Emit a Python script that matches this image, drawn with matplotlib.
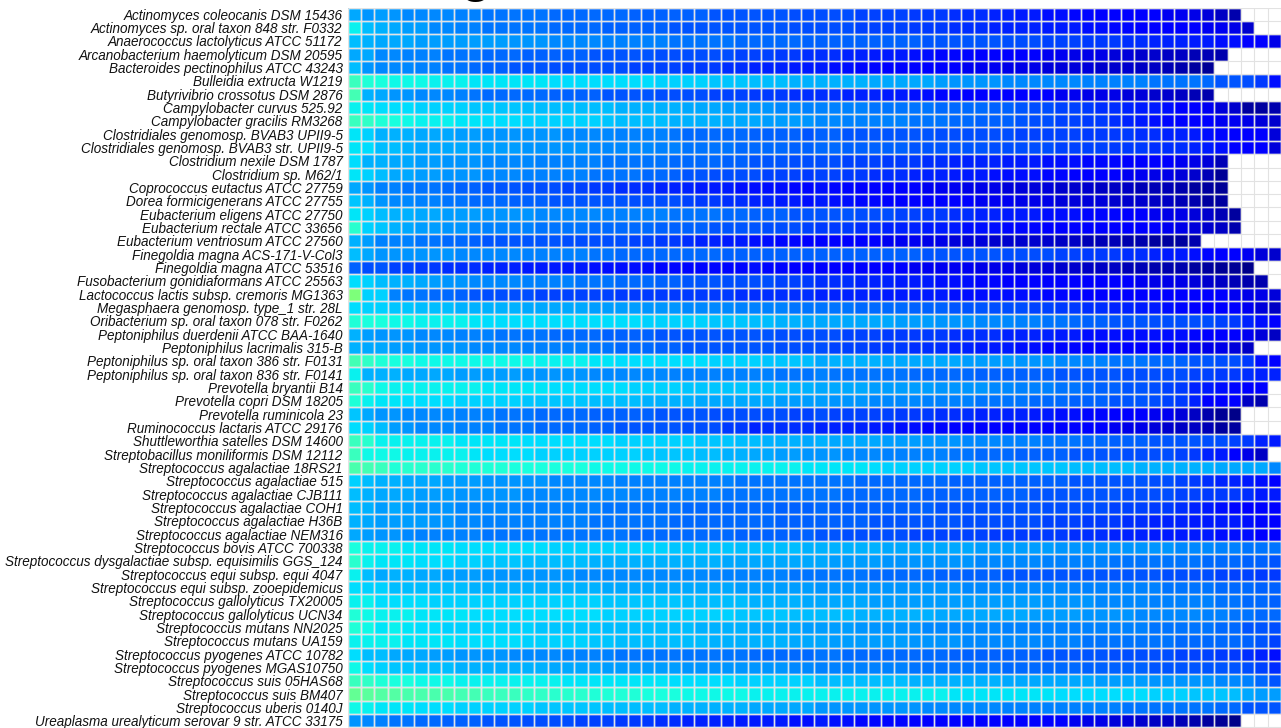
import numpy as np
import matplotlib
matplotlib.use("Agg")
import matplotlib.pyplot as plt

''' values read off the picture, 0 = navy end of jet, 50 = green end, short rows = blank cells '''
numCols = 70

speciesNames = [
	"Actinomyces coleocanis DSM 15436",
	"Actinomyces sp. oral taxon 848 str. F0332",
	"Anaerococcus lactolyticus ATCC 51172",
	"Arcanobacterium haemolyticum DSM 20595",
	"Bacteroides pectinophilus ATCC 43243",
	"Bulleidia extructa W1219",
	"Butyrivibrio crossotus DSM 2876",
	"Campylobacter curvus 525.92",
	"Campylobacter gracilis RM3268",
	"Clostridiales genomosp. BVAB3 UPII9-5",
	"Clostridiales genomosp. BVAB3 str. UPII9-5",
	"Clostridium nexile DSM 1787",
	"Clostridium sp. M62/1",
	"Coprococcus eutactus ATCC 27759",
	"Dorea formicigenerans ATCC 27755",
	"Eubacterium eligens ATCC 27750",
	"Eubacterium rectale ATCC 33656",
	"Eubacterium ventriosum ATCC 27560",
	"Finegoldia magna ACS-171-V-Col3",
	"Finegoldia magna ATCC 53516",
	"Fusobacterium gonidiaformans ATCC 25563",
	"Lactococcus lactis subsp. cremoris MG1363",
	"Megasphaera genomosp. type_1 str. 28L",
	"Oribacterium sp. oral taxon 078 str. F0262",
	"Peptoniphilus duerdenii ATCC BAA-1640",
	"Peptoniphilus lacrimalis 315-B",
	"Peptoniphilus sp. oral taxon 386 str. F0131",
	"Peptoniphilus sp. oral taxon 836 str. F0141",
	"Prevotella bryantii B14",
	"Prevotella copri DSM 18205",
	"Prevotella ruminicola 23",
	"Ruminococcus lactaris ATCC 29176",
	"Shuttleworthia satelles DSM 14600",
	"Streptobacillus moniliformis DSM 12112",
	"Streptococcus agalactiae 18RS21",
	"Streptococcus agalactiae 515",
	"Streptococcus agalactiae CJB111",
	"Streptococcus agalactiae COH1",
	"Streptococcus agalactiae H36B",
	"Streptococcus agalactiae NEM316",
	"Streptococcus bovis ATCC 700338",
	"Streptococcus dysgalactiae subsp. equisimilis GGS_124",
	"Streptococcus equi subsp. equi 4047",
	"Streptococcus equi subsp. zooepidemicus",
	"Streptococcus gallolyticus TX20005",
	"Streptococcus gallolyticus UCN34",
	"Streptococcus mutans NN2025",
	"Streptococcus mutans UA159",
	"Streptococcus pyogenes ATCC 10782",
	"Streptococcus pyogenes MGAS10750",
	"Streptococcus suis 05HAS68",
	"Streptococcus suis BM407",
	"Streptococcus uberis 0140J",
	"Ureaplasma urealyticum serovar 9 str. ATCC 33175",
]

cellValues = [
	[29,27,28,27,26,26,26,26,25,25, 24,24,24,24,24,23,23,23,23,23, 23,22,22,22,22,22,22,21,21,21, 21,21,21,20,20,20,20,20,19,19, 19,19,18,18,18,17,17,17,16,16, 15,15,14,14,13,13,12,12,12,11, 11,10,10,9,8,6,4],
	[36,31,30,29,28,28,26,26,25,25, 24,24,24,24,24,23,23,23,23,22, 22,22,22,22,21,21,21,21,21,21, 21,21,21,20,20,20,20,20,19,19, 19,19,18,18,18,17,17,17,16,16, 16,16,15,15,15,14,14,13,13,12, 12,12,11,11,10,10,9,7],
	[31,30,29,29,29,28,28,28,28,28, 28,28,27,27,27,26,26,26,26,25, 25,25,25,25,24,24,24,24,24,23, 23,23,23,23,22,22,22,22,22,22, 22,22,22,21,21,21,21,21,21,20, 20,20,19,19,19,18,18,18,17,17, 16,16,16,15,15,14,14,12,11,9],
	[29,29,26,26,25,25,25,24,24,24, 23,23,23,22,22,22,22,22,21,21, 21,21,21,20,20,20,20,20,20,19, 19,19,18,18,17,17,17,16,16,15, 15,15,14,14,13,13,13,12,12,12, 11,11,10,10,9,9,9,8,8,7, 7,6,6,5,5,4],
	[31,27,26,26,26,25,25,24,24,23, 22,22,21,21,21,20,20,20,20,20, 20,19,19,19,19,18,18,18,17,17, 16,16,16,15,15,15,14,14,13,13, 12,12,12,11,11,11,10,10,10,9, 9,9,8,8,8,8,7,7,7,6, 6,5,4,3,2],
	[42,39,38,37,37,37,36,36,36,35, 35,35,35,35,35,34,34,34,34,34, 34,34,34,33,33,33,33,32,32,32, 31,31,31,30,30,30,30,30,30,29, 29,29,29,29,28,27,27,27,27,26, 26,26,26,26,26,25,25,25,25,25, 24,24,24,24,23,21,21,20,18,14],
	[43,30,29,27,27,26,26,26,25,24, 23,23,23,23,23,22,22,22,22,21, 21,21,21,20,20,20,20,19,19,19, 18,18,18,17,17,17,17,16,16,16, 15,15,14,14,13,12,12,12,12,12, 11,11,11,10,10,9,9,9,8,8, 7,7,6,5,4],
	[36,35,34,34,34,33,33,33,33,32, 32,32,32,31,31,31,31,31,31,31, 30,30,30,30,30,29,29,29,28,28, 27,27,26,26,25,25,25,25,25,24, 24,24,24,24,23,23,23,23,22,22, 21,20,20,19,19,18,17,17,16,15, 15,14,12,11,10,8,7,3,3,4],
	[42,41,39,38,37,36,36,36,35,35, 34,34,34,33,33,33,33,33,33,32, 31,31,31,31,30,30,30,30,29,29, 29,28,28,28,27,26,26,25,25,25, 25,25,24,24,24,23,23,22,22,22, 21,20,20,19,19,18,18,17,16,15, 14,13,12,12,11,10,10,9,8,7],
	[35,33,30,30,30,29,29,29,28,28, 27,27,27,27,27,27,26,26,26,26, 25,25,25,25,24,23,23,23,23,23, 22,22,22,22,21,22,22,21,21,21, 21,21,21,21,20,20,20,20,20,20, 19,19,19,19,19,18,18,18,18,17, 17,16,16,15,14,13,12,11,11,8],
	[35,34,31,31,30,29,29,29,29,28, 28,28,28,27,27,27,27,27,26,26, 26,26,26,25,25,24,24,24,24,23, 23,23,23,22,22,23,23,22,22,22, 22,22,21,21,21,21,21,21,20,20, 20,20,20,19,19,19,19,18,18,18, 17,17,17,16,15,14,12,12,11,8],
	[34,30,30,29,29,28,28,27,27,27, 26,26,26,26,25,25,25,25,25,24, 24,24,24,24,23,23,23,23,22,22, 21,21,21,20,20,20,20,19,19,19, 18,18,18,17,17,16,16,16,16,15, 15,15,14,14,14,13,13,13,12,12, 11,11,10,9,8,5],
	[35,33,31,29,29,28,28,27,27,27, 26,26,26,25,25,25,25,25,24,24, 24,24,23,23,22,21,21,20,20,20, 20,19,19,19,18,19,19,18,18,17, 17,17,16,16,16,15,15,15,14,14, 14,14,13,13,12,11,11,11,10,10, 9,9,8,7,5,2],
	[29,27,25,25,24,24,24,23,22,22, 21,21,21,20,20,20,19,19,18,18, 17,17,17,16,16,16,15,15,15,14, 14,14,14,13,13,14,13,13,12,12, 12,11,11,10,10,10,9,9,9,8, 8,8,8,7,7,7,6,6,6,5, 5,5,4,3,3,2],
	[32,30,27,26,26,25,25,24,24,23, 23,23,22,22,22,21,21,21,21,21, 21,20,20,20,20,19,18,18,17,17, 16,16,15,15,14,15,14,14,13,13, 12,12,12,11,11,11,11,10,10,10, 9,9,9,8,8,8,8,7,7,7, 6,6,5,4,3,3],
	[35,33,31,30,30,29,29,28,28,28, 27,27,27,27,26,26,26,26,26,25, 25,25,25,25,24,24,24,24,23,23, 22,22,22,21,21,21,21,21,20,20, 20,19,19,18,18,17,17,16,16,15, 15,15,14,14,14,13,13,13,12,11, 10,9,9,8,7,5,3],
	[40,33,32,30,29,28,28,27,27,26, 25,25,25,25,24,24,24,24,23,23, 23,23,23,22,22,22,22,21,21,21, 21,20,20,20,19,18,18,18,17,17, 16,16,16,15,15,15,14,14,14,13, 13,13,12,12,12,11,11,11,11,11, 11,10,9,8,7,6,4],
	[30,28,25,25,25,24,24,23,23,22, 21,21,21,21,21,21,20,20,20,20, 20,19,19,18,18,17,16,16,15,15, 14,14,13,13,12,12,11,11,11,11, 10,10,10,9,9,8,8,8,7,7, 7,7,7,6,6,5,5,5,4,4, 3,3,3,4],
	[31,29,27,27,27,27,27,27,26,26, 26,26,26,25,25,25,25,25,24,24, 23,23,23,23,23,23,23,23,22,22, 22,22,22,22,22,22,22,22,22,22, 22,22,22,21,21,21,21,21,21,20, 20,20,20,19,19,18,18,18,17,17, 16,15,15,14,13,12,11,10,8,7],
	[22,20,21,19,19,18,18,17,17,17, 16,16,16,15,15,15,15,15,14,14, 14,14,14,13,13,13,13,13,13,13, 14,13,13,12,12,12,12,11,11,11, 11,11,10,10,10,10,10,9,9,9, 8,8,8,7,7,6,6,6,5,5, 4,4,4,3,3,2,2,1],
	[34,33,31,30,30,29,28,27,27,26, 26,26,26,25,25,25,25,24,24,24, 23,23,23,22,22,21,21,21,20,20, 20,20,19,19,18,17,17,17,16,16, 16,15,15,15,14,14,14,13,13,12, 12,12,12,11,11,11,11,11,12,10, 9,9,9,8,7,6,5,4,4],
	[50,33,33,25,24,24,23,23,22,21, 20,20,20,20,19,19,19,19,19,19, 18,18,18,18,18,18,18,18,18,17, 17,17,17,17,17,16,16,16,16,16, 15,15,15,15,15,14,14,14,14,14, 14,14,13,13,13,12,12,12,12,12, 11,11,11,11,11,11,10,9,9,8],
	[34,33,33,32,32,31,31,31,30,30, 30,30,30,29,29,29,29,29,28,28, 28,28,27,27,27,26,26,26,26,25, 25,25,25,24,24,24,24,24,23,23, 23,23,22,22,22,21,21,21,20,20, 20,19,19,18,18,17,17,16,16,15, 15,14,13,12,12,12,11,10,8,6],
	[39,38,38,37,37,36,36,36,36,35, 34,34,34,34,34,34,34,34,34,34, 34,34,33,33,33,33,33,32,32,32, 31,31,30,30,29,29,29,29,29,29, 29,28,28,28,27,27,27,26,26,26, 25,25,24,24,23,22,22,21,21,21, 20,20,20,20,20,19,18,16,14,12],
	[30,28,27,27,27,26,26,26,25,25, 25,24,24,24,24,23,23,23,23,22, 22,22,22,21,21,21,21,21,21,21, 21,21,20,20,20,20,20,19,19,19, 18,18,18,18,18,17,17,17,17,16, 16,16,16,15,15,14,14,14,14,14, 14,14,14,13,12,12,11,10,8,6],
	[30,29,29,28,28,27,27,27,27,26, 26,26,26,25,25,25,25,25,24,24, 23,23,23,22,22,21,21,21,21,21, 21,21,20,20,20,20,19,19,19,18, 18,18,17,17,17,16,16,15,15,15, 14,14,13,13,13,12,12,12,12,11, 11,11,10,10,9,9,8,6],
	[43,41,39,38,38,37,37,37,37,37, 37,37,37,37,36,36,36,36,35,35, 34,34,34,34,34,34,34,33,33,33, 33,32,32,32,31,29,30,30,30,30, 29,29,29,29,29,29,28,28,28,28, 27,27,27,26,26,25,25,24,24,24, 23,23,22,21,21,20,20,18,14,12],
	[36,30,30,30,29,29,29,29,28,28, 28,28,28,27,27,27,27,27,26,26, 26,26,26,26,25,25,25,25,25,25, 25,25,24,24,24,25,24,24,24,24, 24,24,23,23,23,23,23,22,22,22, 22,22,22,21,21,21,21,21,20,20, 20,20,20,19,19,18,18,17,16,16],
	[42,40,37,36,36,36,36,36,36,36, 35,35,35,35,35,34,34,34,34,34, 34,33,33,33,33,32,32,32,32,32, 31,31,31,30,30,29,29,29,29,28, 28,28,28,28,27,27,27,27,26,26, 25,25,25,24,24,23,22,22,21,21, 20,19,18,16,15,14,13,12,11],
	[39,36,35,35,34,34,34,34,33,33, 33,33,33,32,32,32,32,32,31,31, 31,31,30,30,30,30,29,29,29,29, 29,29,28,28,28,28,27,27,27,26, 26,26,26,25,25,25,25,24,24,24, 24,23,23,23,22,22,22,21,21,21, 20,19,18,16,12,12,11,6,4],
	[32,29,27,27,26,26,26,26,25,25, 25,24,24,24,23,23,23,23,22,22, 22,22,22,21,21,21,21,20,20,20, 20,20,20,19,19,20,19,19,19,19, 19,18,18,18,17,17,17,16,16,16, 16,15,15,14,14,13,13,12,12,12, 10,10,8,6,4,2,1],
	[34,33,31,28,27,26,26,26,25,25, 25,24,24,24,23,23,23,23,22,22, 21,21,21,21,21,20,20,20,18,18, 16,17,17,17,17,16,16,16,16,15, 15,14,14,13,13,12,12,12,12,12, 12,12,12,12,11,11,11,10,9,9, 8,7,6,6,5,3,3],
	[42,40,36,36,36,36,36,36,35,35, 35,35,35,34,34,34,34,34,34,34, 33,33,33,33,33,33,32,32,32,31, 31,30,30,30,29,30,29,29,29,29, 28,28,28,27,27,27,26,26,26,25, 25,25,24,24,24,23,23,22,22,22, 21,21,21,21,20,20,19,18,16,15],
	[42,37,37,37,36,36,36,36,36,35, 34,34,34,34,33,33,33,33,33,33, 33,33,32,32,32,32,31,31,30,30, 29,29,28,28,27,27,27,26,26,26, 25,25,25,25,25,24,24,23,23,23, 22,22,22,22,21,21,21,21,20,20, 20,20,19,18,16,15,12,9,6],
	[44,43,42,39,40,40,40,40,39,39, 39,39,38,38,38,38,38,38,37,37, 37,37,37,37,37,36,36,36,36,36, 36,36,36,36,35,35,35,35,35,34, 33,33,33,33,33,33,33,32,32,32, 32,32,32,32,31,31,31,31,31,30, 30,30,30,30,30,29,29,29,29,26],
	[33,31,30,30,29,29,29,28,28,28, 27,27,27,27,27,26,26,26,26,26, 25,25,25,25,25,25,25,25,25,24, 24,24,24,24,24,24,24,24,23,23, 23,23,23,23,23,22,22,22,22,22, 22,22,22,22,21,21,21,21,21,21, 20,20,19,18,17,16,16,15,14,12],
	[31,30,29,29,29,28,28,28,27,27, 27,27,27,26,26,26,26,26,26,26, 26,25,25,25,25,25,25,25,24,24, 24,24,24,24,24,24,24,23,23,23, 23,23,23,22,22,22,22,22,22,22, 22,21,21,21,21,21,21,21,20,20, 20,20,19,19,18,18,18,17,15,15],
	[31,30,28,29,28,27,27,27,26,26, 26,26,26,25,25,25,25,25,25,24, 24,24,24,24,24,23,23,23,23,23, 23,23,22,22,22,23,22,22,22,22, 22,22,22,22,21,21,21,21,21,21, 21,21,20,20,20,20,20,19,19,19, 18,18,17,16,15,14,13,12,12,11],
	[30,29,28,28,28,28,27,27,26,26, 25,25,25,25,25,25,25,25,24,24, 24,24,24,24,23,23,23,23,23,23, 23,23,22,22,22,22,22,22,22,21, 21,21,21,21,21,21,20,20,20,20, 20,20,19,19,19,18,18,18,17,17, 16,16,16,15,15,15,15,14,13,11],
	[29,28,27,27,26,25,25,25,25,25, 24,24,24,24,24,24,24,24,24,24, 24,23,23,23,23,23,23,23,23,22, 22,22,22,22,22,21,21,20,20,20, 20,20,19,19,19,19,19,19,18,18, 18,18,18,18,17,17,17,16,16,16, 15,15,15,15,15,14,14,14,12,11],
	[38,36,36,36,35,35,35,35,34,34, 34,34,34,34,34,33,33,33,33,33, 33,33,33,33,32,32,32,32,32,31, 31,31,31,31,30,30,30,30,30,30, 29,29,29,29,29,29,29,28,28,28, 28,28,28,27,27,27,27,27,27,27, 27,27,26,26,26,25,25,24,24,24],
	[40,36,35,35,35,34,34,34,33,33, 32,32,32,31,31,31,31,31,30,30, 30,30,30,30,30,30,30,30,29,29, 29,29,29,29,29,29,28,28,28,28, 27,27,27,27,27,27,27,26,26,26, 26,26,25,25,25,25,25,24,24,24, 24,24,24,24,23,23,23,22,22,21],
	[36,31,29,30,30,29,29,28,28,28, 27,27,27,27,27,27,27,26,26,26, 26,26,26,26,26,26,26,25,25,25, 25,25,25,24,24,24,24,24,24,23, 23,23,23,23,22,22,22,22,22,21, 21,21,21,21,21,21,21,21,21,21, 21,20,20,20,20,19,19,19,18,18],
	[34,33,33,31,31,31,31,31,31,30, 30,30,30,30,30,30,30,30,30,29, 29,29,29,29,29,29,29,29,29,28, 28,28,28,28,28,27,27,27,27,27, 27,27,27,27,27,27,26,26,26,26, 26,26,26,26,25,25,25,25,25,25, 25,24,24,24,24,23,23,23,22,22],
	[36,36,34,34,34,34,33,33,33,33, 33,33,33,33,33,33,33,33,33,32, 32,32,32,32,32,31,31,31,31,31, 30,30,30,30,29,29,29,29,29,28, 28,28,28,28,28,28,28,28,28,28, 28,28,27,27,27,27,26,26,26,26, 25,25,25,25,25,24,24,23,23,22],
	[39,37,36,36,36,35,35,35,35,34, 34,34,34,34,34,34,34,34,34,33, 33,33,33,33,33,33,33,33,33,32, 32,32,32,31,31,31,31,31,30,30, 30,30,30,30,29,29,29,29,29,29, 29,28,28,28,28,27,27,27,27,26, 26,26,26,26,25,25,24,24,23,23],
	[39,37,35,36,35,34,34,33,33,33, 33,33,33,33,32,32,32,32,32,31, 31,31,31,31,31,31,30,30,30,30, 29,29,29,29,28,28,28,28,27,27, 27,27,27,26,26,26,26,26,26,25, 25,25,25,25,25,25,25,25,25,25, 24,24,24,24,24,23,23,21,21,20],
	[36,36,36,36,35,35,35,35,34,34, 34,34,34,33,33,33,33,33,32,32, 31,31,31,31,31,31,31,30,30,30, 30,30,30,29,29,29,28,28,28,28, 28,28,27,27,27,27,26,26,26,26, 26,26,25,25,25,24,24,24,24,24, 24,24,23,23,23,23,23,22,21,19],
	[34,31,31,29,29,29,28,28,27,27, 27,27,26,26,26,26,25,25,25,25, 24,24,24,24,24,24,24,24,24,24, 23,23,23,23,23,24,24,23,23,23, 23,23,23,23,23,22,22,22,22,22, 22,22,21,21,21,21,21,20,20,20, 20,20,19,19,19,18,18,17,16,14],
	[37,34,33,32,32,31,31,31,30,30, 30,30,30,30,30,29,29,29,29,28, 28,28,28,28,28,27,27,27,27,27, 27,27,27,26,26,25,25,25,25,25, 25,25,24,24,24,24,24,24,24,23, 23,23,23,23,23,22,22,22,22,22, 21,21,21,21,21,21,21,20,19,17],
	[42,41,39,38,38,37,37,37,36,36, 36,36,36,36,36,36,35,35,35,35, 35,35,35,35,34,34,34,34,34,33, 33,33,33,33,33,31,31,31,31,31, 31,31,30,30,30,30,30,30,30,29, 29,29,29,29,29,29,28,28,28,28, 27,27,27,27,27,26,26,25,23,21],
	[47,46,45,45,44,44,44,44,43,43, 42,42,42,41,41,40,40,40,39,39, 39,39,38,38,38,37,37,37,37,37, 36,36,36,36,36,36,36,36,36,36, 36,36,36,36,36,35,35,35,35,35, 35,35,35,34,34,34,34,34,34,34, 33,33,33,32,32,32,31,29,28,28],
	[37,36,35,35,35,34,34,34,33,33, 33,33,33,33,32,32,32,32,32,31, 31,31,31,31,30,30,30,30,30,30, 29,29,29,29,29,27,27,27,27,27, 27,27,27,26,26,26,26,26,26,25, 25,25,25,25,25,25,25,25,24,24, 24,24,24,24,24,23,23,21,21,21],
	[27,26,25,24,24,23,23,22,22,22, 21,21,21,20,20,20,20,19,19,19, 18,18,18,17,17,16,16,16,16,15, 15,15,15,14,14,15,14,14,13,13, 13,13,12,12,12,12,12,12,11,11, 11,11,11,11,10,9,9,8,8,7, 6,6,5,4,3,2,1],
]

gridColor = '#e2e2e2'


def main():
	# short rows end in blank cells
	grid = np.full((len(cellValues), numCols), np.nan)
	for i, row in enumerate(cellValues):
		grid[i, :len(row)] = row
	grid = np.ma.masked_invalid(grid)

	fig = plt.figure(figsize=(12.81, 7.28), dpi=100)
	ax = fig.add_axes([347.5/1281, 1 - 727.5/728, (1281 - 347.5)/1281, 720/728])
	ax.pcolormesh(grid, cmap='jet', vmin=0, vmax=100)
	ax.set_xlim(0, numCols)
	ax.set_ylim(len(cellValues), 0)

	# soft halo under the hard grid line, the original looks slightly blurred
	ax.vlines(np.arange(numCols + 1), 0, len(cellValues), color='white', alpha=0.3, lw=2.0, zorder=2)
	ax.hlines(np.arange(len(cellValues) + 1), 0, numCols, color='white', alpha=0.3, lw=2.0, zorder=2)
	ax.vlines(np.arange(numCols + 1), 0, len(cellValues), color=gridColor, lw=0.8, zorder=3)
	ax.hlines(np.arange(len(cellValues) + 1), 0, numCols, color=gridColor, lw=0.8, zorder=3)

	ax.set_xticks([])
	ax.set_yticks(np.arange(len(cellValues)) + 0.5)
	ax.set_yticklabels(speciesNames, fontfamily='Liberation Sans', style='italic', fontsize=9.72, color='#111111')
	ax.tick_params(axis='y', length=0, pad=3.6)
	for side in ax.spines.values():
		side.set_visible(False)

	# only the tail of the clipped title is left in the picture
	fig.text(476/1281, 1 + 8/728, "g", fontfamily='Liberation Sans', fontweight='bold', fontsize=36, ha='center', va='baseline', color='black')

	fig.savefig('out.png', dpi=100)


if __name__ == '__main__':
	main()
